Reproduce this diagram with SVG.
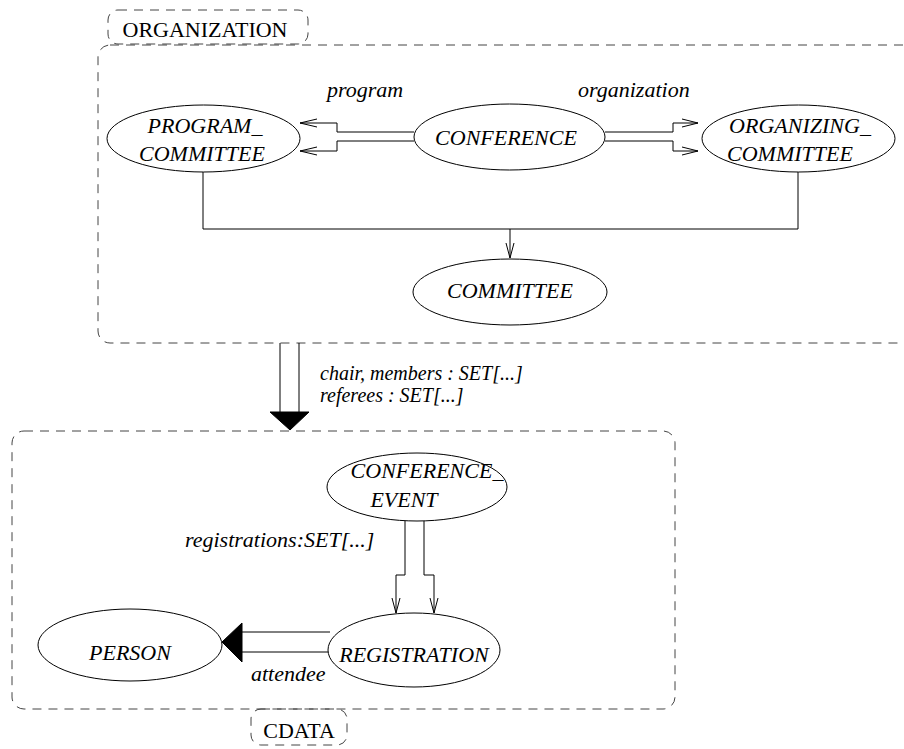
<svg xmlns="http://www.w3.org/2000/svg" width="904" height="749" viewBox="0 0 904 749">
<style>
.bg{fill:#fff}
.node{fill:#fff;stroke:#000;stroke-width:1}
.t{font-family:"Liberation Serif",serif;font-size:22px;font-style:italic;fill:#000;text-anchor:middle}
.lbl{font-family:"Liberation Serif",serif;font-size:22px;font-style:italic;fill:#000}
.lbs{font-family:"Liberation Serif",serif;font-size:20px;font-style:italic;fill:#000}
.cl{fill:none;stroke:#444;stroke-width:1;stroke-dasharray:9 7}
.ct{font-family:"Liberation Serif",serif;font-size:22px;fill:#000;text-anchor:middle}
.ln{fill:none;stroke:#000;stroke-width:1}
.ah{fill:none;stroke:#000;stroke-width:1}
.fh{fill:#000;stroke:#000;stroke-width:1}
</style>
<rect class="bg" x="0" y="0" width="904" height="749"/>
<g id="cluster-organization">
<rect class="cl" x="98" y="45" width="830" height="298" rx="12"/>
<rect class="cl" x="108" y="10" width="200" height="34" rx="10"/>
<text class="ct" x="205" y="37">ORGANIZATION</text>
</g>
<g id="cluster-cdata">
<rect class="cl" x="12" y="431" width="663" height="278" rx="12"/>
<rect class="cl" x="251" y="709" width="96" height="36" rx="10"/>
<text class="ct" x="299" y="738">CDATA</text>
</g>
<g id="connectors">
<path class="ln" d="M414,132 H337 V123 H300 M414,141 H337 V151 H300"/>
<path class="ah" d="M317,119 L300,123 L317,127 M317,147 L300,151 L317,155"/>
<path class="ln" d="M605,132 H673 V123 H698 M605,141 H673 V151 H698"/>
<path class="ah" d="M682,119 L698,123 L682,127 M682,147 L698,151 L682,155"/>
<path class="ln" d="M203,172 V229 H798 V172 M510,229 V258"/>
<path class="ah" d="M506,243 L510,258 L514,243"/>
<path class="ln" d="M280,343 V412 M299,343 V412"/>
<polygon class="fh" points="270,412 309,412 290,430"/>
<path class="ln" d="M405,521 V575 H396 V613 M424,521 V575 H434 V613"/>
<path class="ah" d="M392,598 L396,613 L400,598 M430,598 L434,613 L438,598"/>
<path class="ln" d="M330,632 H242 M330,652 H242"/>
<polygon class="fh" points="242,623 242,662 222,642"/>
</g>
<g id="labels">
<text class="lbl" x="327" y="97">program</text>
<text class="lbl" x="578" y="97">organization</text>
<text class="lbs" x="320" y="380">chair, members : SET[...]</text>
<text class="lbs" x="320" y="402">referees : SET[...]</text>
<text class="lbl" x="185" y="547">registrations:SET[...]</text>
<text class="lbl" x="251" y="681">attendee</text>
</g>
<g id="node-program-committee">
<ellipse class="node" cx="203.5" cy="138.5" rx="96.5" ry="33.5"/>
<text class="t" x="205" y="133">PROGRAM_</text>
<text class="t" x="202" y="161">COMMITTEE</text>
</g>
<g id="node-conference">
<ellipse class="node" cx="509.5" cy="137" rx="95.5" ry="33"/>
<text class="t" x="506" y="145">CONFERENCE</text>
</g>
<g id="node-organizing-committee">
<ellipse class="node" cx="798.5" cy="138.5" rx="96.5" ry="33.5"/>
<text class="t" x="800" y="133">ORGANIZING_</text>
<text class="t" x="790" y="161">COMMITTEE</text>
</g>
<g id="node-committee">
<ellipse class="node" cx="510" cy="292" rx="97" ry="33"/>
<text class="t" x="510" y="298">COMMITTEE</text>
</g>
<g id="node-conference-event">
<ellipse class="node" cx="417" cy="487" rx="90" ry="34"/>
<text class="t" x="427" y="478">CONFERENCE_</text>
<text class="t" x="404" y="507">EVENT</text>
</g>
<g id="node-registration">
<ellipse class="node" cx="414" cy="650" rx="86" ry="37"/>
<text class="t" x="414" y="662">REGISTRATION</text>
</g>
<g id="node-person">
<ellipse class="node" cx="130" cy="645" rx="92" ry="36"/>
<text class="t" x="130" y="660">PERSON</text>
</g>
</svg>
